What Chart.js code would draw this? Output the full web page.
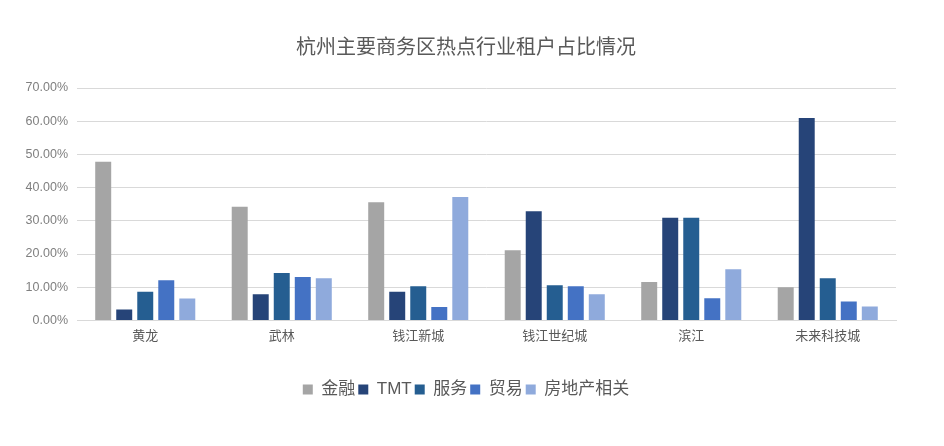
<!DOCTYPE html>
<html>
<head>
<meta charset="utf-8">
<title>杭州主要商务区热点行业租户占比情况</title>
<script src="https://cdn.jsdelivr.net/npm/chart.js@4"></script>
<style>
  html, body { margin: 0; padding: 0; background: #fff; }
  #wrap { width: 944px; height: 446px; }
</style>
</head>
<body>
<div id="wrap"><canvas id="chart" width="944" height="446"></canvas></div>
<script>
// ---------------------- DATOS ----------------------
const districts = ["黄龙", "武林", "钱江新城", "钱江世纪城", "滨江", "未来科技城"];

const finance = [47.8, 34.2, 35.6, 21.1, 11.6, 10.0];
const tmt = [3.3, 7.9, 8.6, 32.9, 30.9, 61.0];
const services = [8.6, 14.3, 10.3, 10.6, 30.9, 12.7];
const trade = [12.1, 13.1, 4.0, 10.3, 6.7, 5.7];
const realEstate = [6.6, 12.7, 37.2, 7.9, 15.4, 4.2];

const seriesNames = ["金融", "TMT", "服务", "贸易", "房地产相关"];
const yTicks = [0, 10, 20, 30, 40, 50, 60, 70];

const colors = ["#a5a5a5", "#264478", "#255e91", "#4472c4", "#8faadc"];
const fontFamily = '"Liberation Sans", "Noto Sans CJK SC", sans-serif';

// ---------------------- GRAFICO ----------------------
const seriesValues = [finance, tmt, services, trade, realEstate];

new Chart(document.getElementById("chart"), {
  type: "bar",
  data: {
    labels: districts,
    datasets: seriesValues.map((vals, i) => ({
      label: seriesNames[i],
      data: vals,
      backgroundColor: colors[i],
      borderWidth: 0,
      categoryPercentage: 0.77,
      barPercentage: 0.76,
    })),
  },
  options: {
    responsive: false,
    animation: false,
    layout: { padding: { left: 0, right: 12, top: 36, bottom: 38 } },
    plugins: {
      title: {
        display: true,
        text: "杭州主要商务区热点行业租户占比情况",
        color: "#595959",
        font: { family: fontFamily, size: 20, weight: "normal" },
        padding: { top: 0, bottom: 28 },
      },
      legend: {
        position: "bottom",
        labels: {
          color: "#595959",
          font: { family: fontFamily, size: 17 },
          boxWidth: 10,
          boxHeight: 10,
          padding: 3,
        },
      },
      tooltip: { enabled: false },
    },
    scales: {
      x: {
        grid: { display: false, drawTicks: false },
        border: { color: "#d9d9d9" },
        afterFit: (s) => { s.height += 26; },
        ticks: {
          color: "#595959",
          font: { family: fontFamily, size: 13 },
          padding: 8,
        },
      },
      y: {
        min: 0,
        max: 70,
        afterFit: (s) => { s.width = 77; },
        afterBuildTicks: (s) => { s.ticks = yTicks.map((v) => ({ value: v })); },
        grid: { color: "#d9d9d9", drawTicks: false },
        border: { display: false },
        ticks: {
          color: "#7f7f7f",
          font: { family: fontFamily, size: 12.5 },
          padding: 9,
          callback: (v) => v.toFixed(2) + "%",
        },
      },
      // espacio vacío a la derecha del área de trazado
      yRight: {
        type: "linear",
        position: "right",
        min: 0,
        max: 70,
        grid: { display: false, drawTicks: false },
        border: { display: false },
        ticks: { display: false },
        afterFit: (s) => { s.width = 36; },
      },
    },
  },
});
</script>
</body>
</html>
